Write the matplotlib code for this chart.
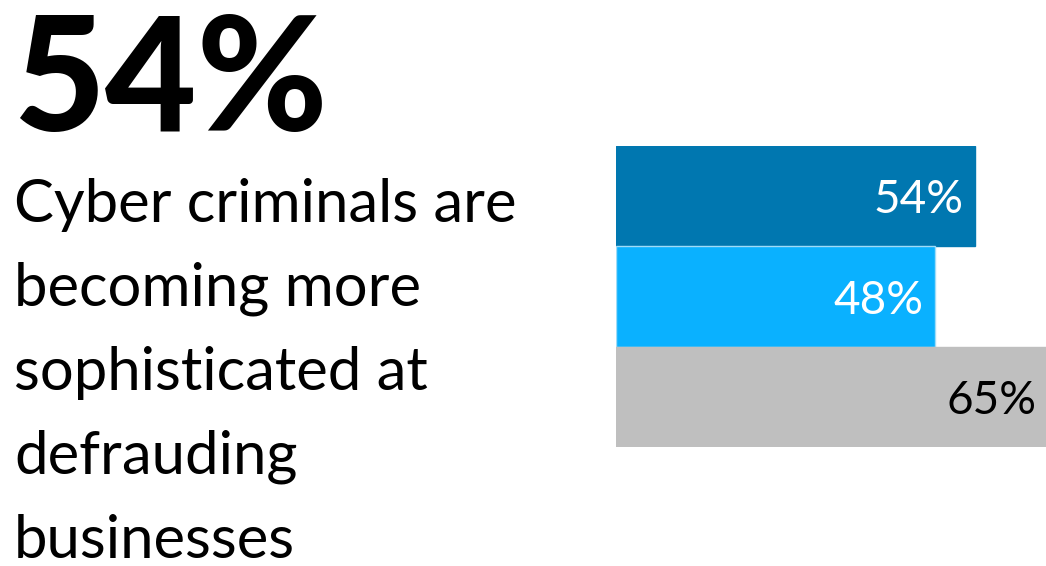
import matplotlib
matplotlib.use("Agg")
import matplotlib.pyplot as plt

headline = "54%"
caption_lines = ["Cyber criminals are", "becoming more", "sophisticated at",
                 "defrauding", "businesses"]
values = [0.54, 0.48, 0.65]
labels = ["54%", "48%", "65%"]
colors = ["#0077B0", "#0AB1FF", "#BFBFBF"]
label_colors = ["white", "white", "black"]

plt.rcParams["font.family"] = ["Lato", "DejaVu Sans"]

fig = plt.figure(figsize=(10.46, 5.66), dpi=100)
W, H = 1046, 566

# ---- left: big number + caption ----
fig.text(13 / W, 1 - 131 / H, headline, fontsize=114, fontweight="black",
         ha="left", va="baseline", color="black")
for i, line in enumerate(caption_lines):
    fig.text(14 / W, 1 - (222 + i * 84) / H, line, fontsize=43,
             ha="left", va="baseline", color="black")

# ---- right: horizontal bars, touching ----
x0, x1 = 616, 1046
y_top, y_bot = 146, 447
px_per_unit = 665
ax = fig.add_axes([x0 / W, 1 - y_bot / H, (x1 - x0) / W, (y_bot - y_top) / H])
ypos = list(range(len(values)))
for y, v, c, lab, lc in zip(ypos, values, colors, labels, label_colors):
    ec = "#9fdcf8" if y == 1 else c
    ax.barh(y, v, height=1.0, color=c, edgecolor=ec, linewidth=1)
    ax.text(v - 12 / px_per_unit, y + 0.04, lab, ha="right", va="center",
            fontsize=33, color=lc)
ax.set_xlim(0, (x1 - x0) / px_per_unit)
ax.set_ylim(2.5, -0.5)
ax.axis("off")

fig.savefig("out.png", dpi=100)
